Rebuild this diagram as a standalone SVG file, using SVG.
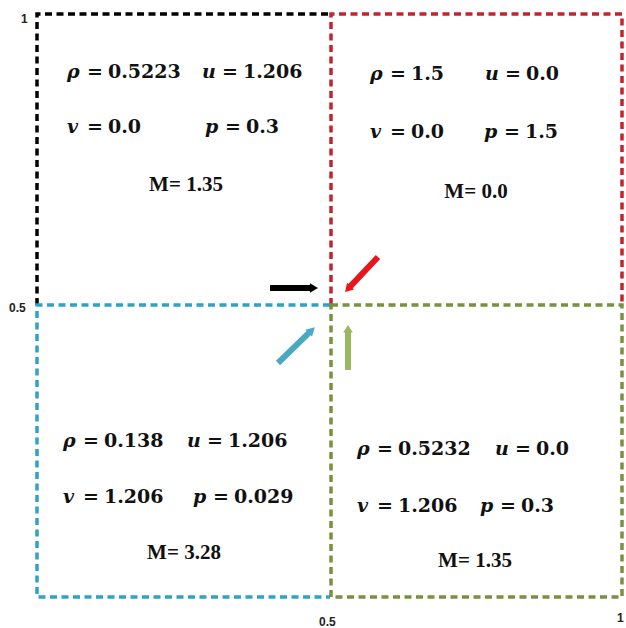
<svg xmlns="http://www.w3.org/2000/svg" xmlns:xlink="http://www.w3.org/1999/xlink" width="626" height="628" viewBox="0 0 626 628">
<style>
.box{fill:none;stroke-width:3.5;stroke-dasharray:7 4.5}
.m{font-family:"DejaVu Serif",serif;font-size:19px;font-weight:bold;fill:#111}
.v{font-style:italic}
.mach{font-family:"Liberation Serif",serif;font-size:21px;font-weight:bold;fill:#111;text-anchor:middle}
.ax{font-family:"Liberation Sans",sans-serif;font-size:12px;font-weight:bold;fill:#222}
</style>
<defs>
<path id="arr" d="M0,-3 H40 V-4.8 L48,0 L40,4.8 V3 H0 Z"/>
</defs>
<rect width="626" height="628" fill="#fff"/>
<g id="q1">
<path class="box" d="M37,305 V14 H330" stroke="#000"/>
<text class="m" y="78"><tspan class="v" x="67">ρ</tspan><tspan x="87">=</tspan><tspan x="108">0.5223</tspan><tspan class="v" x="202">u</tspan><tspan x="222">=</tspan><tspan x="243">1.206</tspan></text>
<text class="m" y="133"><tspan class="v" x="67">v</tspan><tspan x="87">=</tspan><tspan x="108">0.0</tspan><tspan class="v" x="205">p</tspan><tspan x="225">=</tspan><tspan x="246">0.3</tspan></text>
<text class="mach" x="186" y="191">M= 1.35</text>
</g>
<g id="q2">
<path class="box" d="M331,305 V14 H622 V305" stroke="#c0242c"/>
<text class="m" y="80"><tspan class="v" x="370">ρ</tspan><tspan x="390">=</tspan><tspan x="411">1.5</tspan><tspan class="v" x="485">u</tspan><tspan x="505">=</tspan><tspan x="526">0.0</tspan></text>
<text class="m" y="138"><tspan class="v" x="370">v</tspan><tspan x="390">=</tspan><tspan x="411">0.0</tspan><tspan class="v" x="484">p</tspan><tspan x="504">=</tspan><tspan x="525">1.5</tspan></text>
<text class="mach" x="476" y="198">M= 0.0</text>
</g>
<g id="q3">
<path class="box" d="M330,305 H37 V597 H330" stroke="#2fa3c6"/>
<text class="m" y="447"><tspan class="v" x="63">ρ</tspan><tspan x="83">=</tspan><tspan x="104">0.138</tspan><tspan class="v" x="187">u</tspan><tspan x="207">=</tspan><tspan x="228">1.206</tspan></text>
<text class="m" y="503"><tspan class="v" x="63">v</tspan><tspan x="83">=</tspan><tspan x="104">1.206</tspan><tspan class="v" x="193">p</tspan><tspan x="213">=</tspan><tspan x="234">0.029</tspan></text>
<text class="mach" x="184" y="559">M= 3.28</text>
</g>
<g id="q4">
<rect class="box" x="331" y="305" width="291" height="292" stroke="#77913f"/>
<text class="m" y="455"><tspan class="v" x="357">ρ</tspan><tspan x="377">=</tspan><tspan x="398">0.5232</tspan><tspan class="v" x="495">u</tspan><tspan x="515">=</tspan><tspan x="536">0.0</tspan></text>
<text class="m" y="512"><tspan class="v" x="357">v</tspan><tspan x="377">=</tspan><tspan x="398">1.206</tspan><tspan class="v" x="480">p</tspan><tspan x="500">=</tspan><tspan x="521">0.3</tspan></text>
<text class="mach" x="475" y="567">M= 1.35</text>
</g>
<g id="arrows">
<use xlink:href="#arr" transform="translate(270,288)" fill="#000"/>
<use xlink:href="#arr" transform="translate(378,257) rotate(133.3)" fill="#e8151c"/>
<use xlink:href="#arr" transform="translate(278,363) rotate(-44.2) scale(1.07,1)" fill="#4aa9c2"/>
<use xlink:href="#arr" transform="translate(348,370) rotate(-90) scale(0.94,1)" fill="#9bb760"/>
</g>
<g id="axes">
<text class="ax" x="21" y="23">1</text>
<text class="ax" x="9" y="312">0.5</text>
<text class="ax" x="319" y="626">0.5</text>
<text class="ax" x="617" y="622">1</text>
</g>
</svg>
